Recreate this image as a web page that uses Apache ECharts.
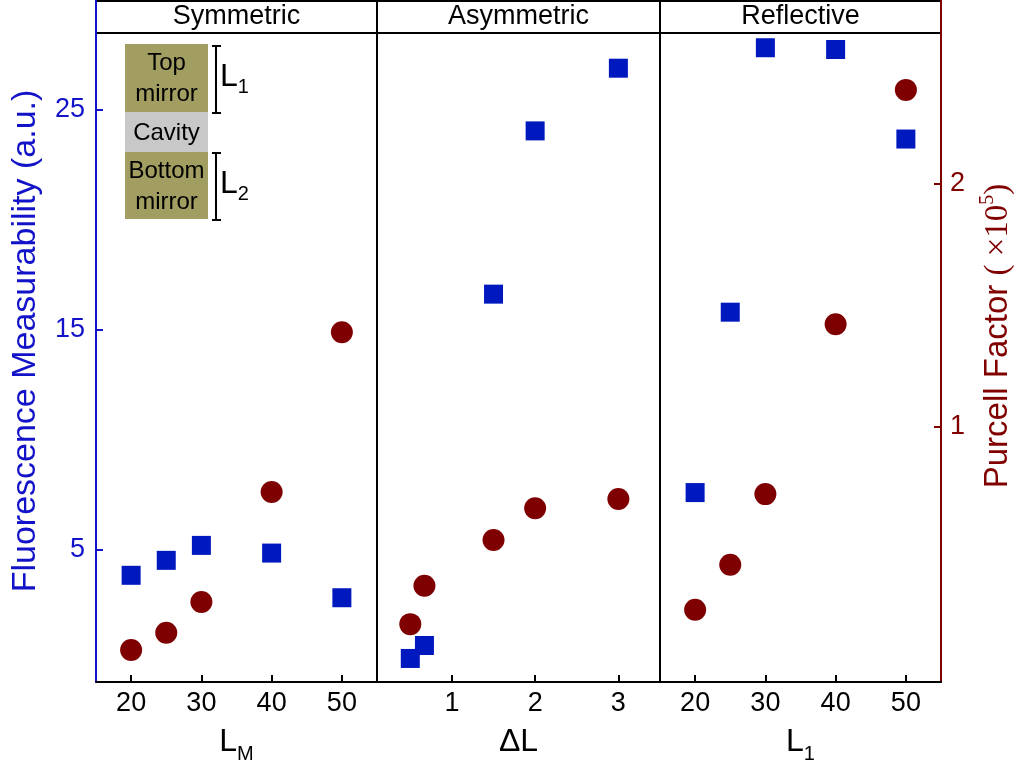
<!DOCTYPE html>
<html>
<head>
<meta charset="utf-8">
<script src="https://cdn.jsdelivr.net/npm/echarts@6/dist/echarts.min.js"></script>
<style>
html,body{margin:0;padding:0;background:#fff;}
#chart{width:1019px;height:767px;}
</style>
</head>
<body>
<div id="chart"></div>
<script>
// ---- data ----
const panelTitles = ['Symmetric', 'Asymmetric', 'Reflective'];
const lmX = [20, 25, 30, 40, 50];
const symFluor = [3.85, 4.53, 5.21, 4.86, 2.83];
const symPurcell = [0.082, 0.153, 0.279, 0.732, 1.389];
const dlX = [0.5, 0.67, 1.5, 2, 3];
const asymFluor = [0.07, 0.66, 16.63, 24.05, 26.9];
const asymPurcell = [0.188, 0.346, 0.534, 0.665, 0.703];
const l1X = [20, 25, 30, 40, 50];
const refFluor = [7.61, 15.81, 27.83, 27.75, 23.68];
const refPurcell = [0.247, 0.432, 0.723, 1.422, 2.386];
const lmTicks = [20, 30, 40, 50];
const dlTicks = [1, 2, 3];
const l1Ticks = [20, 30, 40, 50];
const fluorTicks = [5, 15, 25];
const purcellTicks = [1, 2];

// ---- styles / layout ----
const SANS = 'Liberation Sans, Arial, sans-serif';
const SERIF = 'Liberation Serif, Times New Roman, serif';
const BLUE_AX = '#1212C8';
const RED_AX = '#800000';
const SQ = '#0019BF';
const CI = '#7F0000';
const TOP = 33, BOTTOM = 682;
const panels = [{left: 96, width: 281}, {left: 377, width: 283}, {left: 660, width: 281}];
const xRanges = [[15, 55], [0.1, 3.5], [15, 55]];
const xTicks = [lmTicks, dlTicks, l1Ticks];
const xNames = ['{a|L}{s|M}', '{a|ΔL}', '{a|L}{s|1}'];
const fluorData = [[lmX, symFluor], [dlX, asymFluor], [l1X, refFluor]];
const purcellData = [[lmX, symPurcell], [dlX, asymPurcell], [l1X, refPurcell]];

const zip = (xs, ys) => xs.map((x, i) => [x, ys[i]]);

const grid = [], xAxis = [], yAxis = [], series = [];
panels.forEach((p, i) => {
  grid.push({left: p.left, width: p.width, top: TOP, height: BOTTOM - TOP, outerBoundsMode: 'none', containLabel: false});
  xAxis.push({
    type: 'value', gridIndex: i, min: xRanges[i][0], max: xRanges[i][1],
    name: xNames[i], nameLocation: 'middle', nameGap: 38,
    nameTextStyle: {
      rich: {
        a: {fontSize: 32, fontFamily: SANS, color: '#000', lineHeight: 44, verticalAlign: 'middle'},
        s: {fontSize: 20, fontFamily: SANS, color: '#000', verticalAlign: 'bottom'}
      }
    },
    axisLine: {show: true, onZero: false, lineStyle: {color: '#000', width: 2}},
    axisTick: {show: true, inside: true, length: 7, customValues: xTicks[i], lineStyle: {color: '#000', width: 2}},
    axisLabel: {show: true, customValues: xTicks[i], margin: 8, fontSize: 27, fontFamily: SANS, color: '#000'},
    splitLine: {show: false}
  });
  const isFirst = i === 0, isLast = i === 2;
  // left axis (fluorescence)
  yAxis.push({
    type: 'value', gridIndex: i, position: 'left', min: -1, max: 28.5,
    axisLine: {show: true, onZero: false, lineStyle: {color: isFirst ? BLUE_AX : '#000', width: 2}},
    axisTick: {show: isFirst, inside: true, length: 7, customValues: fluorTicks, lineStyle: {color: BLUE_AX, width: 2}},
    axisLabel: {show: isFirst, customValues: fluorTicks, margin: 11, fontSize: 27, fontFamily: SANS, color: BLUE_AX},
    splitLine: {show: false}
  });
  // right axis (purcell)
  yAxis.push({
    type: 'value', gridIndex: i, position: 'right', min: -0.05, max: 2.62,
    axisLine: {show: true, onZero: false, lineStyle: {color: isLast ? RED_AX : '#000', width: 2}},
    axisTick: {show: isLast, inside: true, length: 7, customValues: purcellTicks, lineStyle: {color: RED_AX, width: 2}},
    axisLabel: {show: isLast, customValues: purcellTicks, margin: 9, fontSize: 27, fontFamily: SANS, color: RED_AX},
    splitLine: {show: false}
  });
  series.push({
    type: 'scatter', xAxisIndex: i, yAxisIndex: 2 * i + 1,
    symbol: 'circle', symbolSize: 22, itemStyle: {color: CI, opacity: 1},
    data: zip(purcellData[i][0], purcellData[i][1]), z: 3
  });
  series.push({
    type: 'scatter', xAxisIndex: i, yAxisIndex: 2 * i,
    symbol: 'rect', symbolSize: 19, itemStyle: {color: SQ, opacity: 1},
    data: zip(fluorData[i][0], fluorData[i][1]), z: 4
  });
});

// ---- decorations ----
const graphic = [];
// header band
graphic.push({type: 'rect', shape: {x: 96, y: 1, width: 845, height: 32}, style: {fill: '#fff', stroke: '#000', lineWidth: 2}, z: 10});
[377, 660].forEach(x => graphic.push({type: 'line', shape: {x1: x, y1: 1, x2: x, y2: TOP}, style: {stroke: '#000', lineWidth: 2}, z: 11}));
graphic.push({type: 'line', shape: {x1: 96, y1: 0, x2: 96, y2: TOP + 1}, style: {stroke: BLUE_AX, lineWidth: 2}, z: 12});
graphic.push({type: 'line', shape: {x1: 941, y1: 0, x2: 941, y2: TOP + 1}, style: {stroke: RED_AX, lineWidth: 2}, z: 12});
panels.forEach((p, i) => graphic.push({
  type: 'text', x: p.left + p.width / 2, y: 17, z: 12,
  style: {text: panelTitles[i], fontSize: 27, fontFamily: SANS, fill: '#000', align: 'center', verticalAlign: 'middle'}
}));

// inset diagram
const OLIVE = '#A29D61', GRAY = '#C8C8C8';
const inset = [
  {y: 44, h: 68, fill: OLIVE, lines: ['Top', 'mirror']},
  {y: 112, h: 40, fill: GRAY, lines: ['Cavity']},
  {y: 152, h: 67, fill: OLIVE, lines: ['Bottom', 'mirror']}
];
inset.forEach(b => {
  graphic.push({type: 'rect', shape: {x: 125, y: b.y, width: 83, height: b.h}, style: {fill: b.fill}, z: 5});
  graphic.push({type: 'text', x: 166.5, y: b.y + b.h / 2 + 1, z: 6,
    style: {text: b.lines.join('\n'), fontSize: 24, lineHeight: 31, fontFamily: SANS, fill: '#000', align: 'center', verticalAlign: 'middle'}});
});
[[46, 113, 'L', '1'], [153, 220, 'L', '2']].forEach(([y1, y2, a, s]) => {
  graphic.push({type: 'line', shape: {x1: 216, y1: y1, x2: 216, y2: y2}, style: {stroke: '#000', lineWidth: 2}, z: 6});
  graphic.push({type: 'line', shape: {x1: 212, y1: y1, x2: 221, y2: y1}, style: {stroke: '#000', lineWidth: 2}, z: 6});
  graphic.push({type: 'line', shape: {x1: 212, y1: y2, x2: 221, y2: y2}, style: {stroke: '#000', lineWidth: 2}, z: 6});
  graphic.push({type: 'text', x: 220, y: (y1 + y2) / 2 - 2, z: 6,
    style: {text: '{a|' + a + '}{s|' + s + '}', align: 'left', verticalAlign: 'middle',
      rich: {a: {fontSize: 32, fontFamily: SANS, fill: '#000', lineHeight: 40, verticalAlign: 'middle'},
             s: {fontSize: 20, fontFamily: SANS, fill: '#000', verticalAlign: 'bottom'}}}});
});

// axis titles
graphic.push({type: 'text', x: 26, y: 341, rotation: Math.PI / 2, z: 6,
  style: {text: 'Fluorescence Measurability (a.u.)', fontSize: 34, fontFamily: SANS, fill: BLUE_AX, align: 'center', verticalAlign: 'middle'}});
graphic.push({type: 'text', x: 998, y: 336, rotation: Math.PI / 2, z: 6,
  style: {text: '{n|Purcell Factor }{p|( ×10}{sup|5}{p|)}', align: 'center', verticalAlign: 'middle',
    rich: {n: {fontSize: 33, fontFamily: SANS, fill: RED_AX, lineHeight: 40, verticalAlign: 'middle'},
           p: {fontSize: 33, fontFamily: SERIF, fill: RED_AX, verticalAlign: 'middle'},
           sup: {fontSize: 20, fontFamily: SERIF, fill: RED_AX, verticalAlign: 'top'}}}});

const chart = echarts.init(document.getElementById('chart'), null, {renderer: 'canvas'});
chart.setOption({
  backgroundColor: '#fff',
  animation: false,
  grid, xAxis, yAxis, series, graphic
});
</script>
</body>
</html>
